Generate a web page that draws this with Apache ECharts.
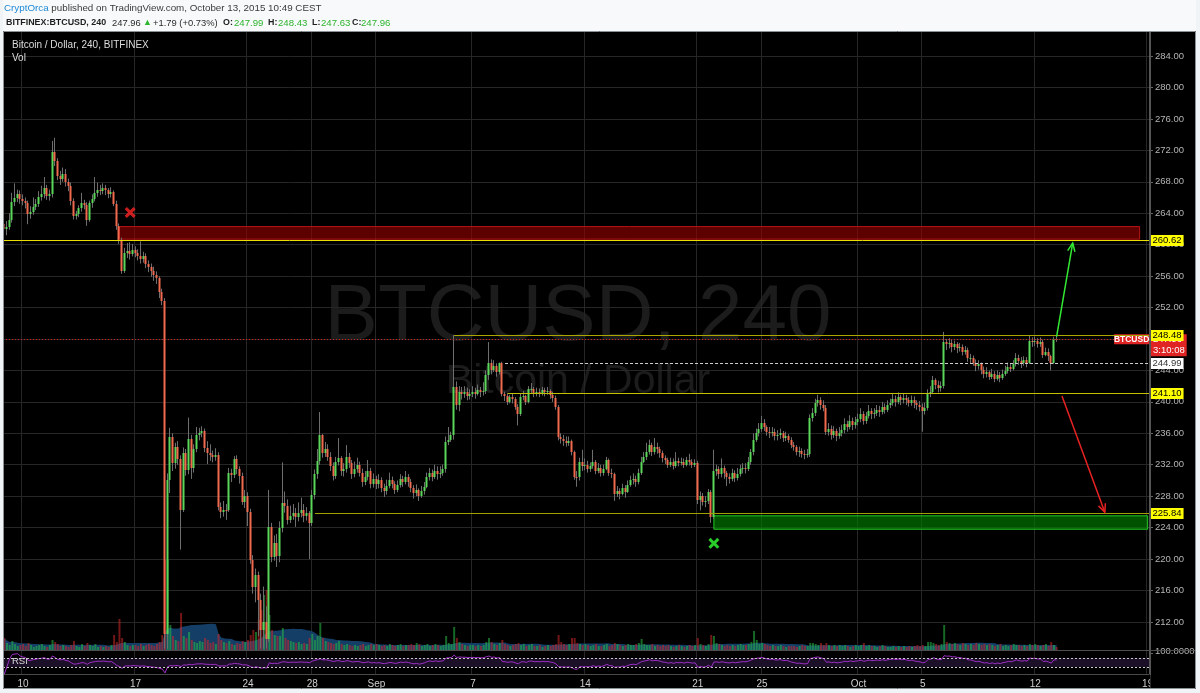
<!DOCTYPE html>
<html><head><meta charset="utf-8">
<script src="https://cdn.jsdelivr.net/npm/echarts/dist/echarts.min.js"></script>
<style>html,body{margin:0;padding:0;background:#f1f4f6;}#c{width:1200px;height:693px;}</style>
</head><body><div id="c"></div>
<script>
// ---------- DATA (4h candles, BITFINEX:BTCUSD) ----------
const startTime = Date.UTC(2015, 7, 8, 20); // first candle: Aug 8 20:00
const totalSlots = 428;                      // axis runs to Oct 19
const firstOpen = 262.6;
const closes = [
262.0,
262.3,263.2,265.4,265.9,266.5,265.8, // Aug 9
265.5,265.3,263.9,264.2,264.8,265.2, // Aug 10
266.0,266.4,267.2,266.2,266.4,271.8, // Aug 11
270.6,268.7,268.4,269.0,268.0,267.5, // Aug 12
265.5,263.6,263.9,264.6,265.3,265.0, // Aug 13
263.2,265.3,265.8,266.6,267.0,266.8, // Aug 14
267.2,266.9,266.5,266.7,265.2,262.4, // Aug 15
260.6,256.6,258.9,259.2,258.8,259.3, // Aug 16
259.0,258.6,258.2,258.5,257.6,257.2, // Aug 17
256.6,256.2,255.8,254.0,252.8,210.5, // Aug 18
230.1,235.5,232.2,234.2,232.7,226.2, // Aug 19
233.5,231.3,235.3,231.6,234.0,235.8, // Aug 20
236.0,236.3,234.1,233.5,233.2,233.0, // Aug 21
233.3,226.6,226.0,226.3,226.2,230.9, // Aug 22
230.7,232.7,231.4,230.6,227.3,228.0, // Aug 23
226.0,219.9,216.4,218.0,214.8,211.0, // Aug 24
212.0,209.8,224.1,220.3,222.0,220.4, // Aug 25
224.0,227.1,226.7,225.0,225.5,225.8, // Aug 26
225.3,225.9,226.3,225.5,225.8,224.6, // Aug 27
228.2,230.8,232.5,235.8,233.5,234.0, // Aug 28
233.0,231.8,230.6,232.3,232.8,231.2, // Aug 29
231.5,233.0,232.2,230.8,231.4,232.0, // Aug 30
231.0,229.8,230.5,231.2,229.6,230.2, // Aug 31
229.5,230.0,229.0,228.6,229.3,230.0, // Sep 1
229.6,228.8,229.4,230.2,229.8,230.4, // Sep 2
229.8,229.0,228.4,228.8,228.0,228.6, // Sep 3
229.2,230.4,231.0,230.5,231.2,230.8, // Sep 4
231.0,231.4,234.9,235.2,235.8,241.9, // Sep 5
239.6,241.3,241.0,241.2,240.8,241.0, // Sep 6
241.3,241.0,241.5,241.2,241.4,243.4, // Sep 7
245.0,244.0,244.6,243.8,245.0,241.0, // Sep 8
240.8,240.0,240.6,240.4,239.3,238.4, // Sep 9
240.6,240.8,240.0,241.6,241.7,241.0, // Sep 10
241.3,241.0,241.5,241.2,241.4,240.9, // Sep 11
240.5,239.4,235.5,235.3,235.0,234.8, // Sep 12
235.0,233.6,230.5,230.4,232.4,231.8, // Sep 13
232.0,231.5,231.8,232.4,231.2,231.6, // Sep 14
231.0,231.5,232.6,231.0,230.8,228.3, // Sep 15
228.6,228.3,229.0,228.5,229.4,230.0, // Sep 16
230.2,229.8,231.0,232.4,233.0,233.6, // Sep 17
234.5,233.6,234.2,234.0,233.5,232.8, // Sep 18
232.6,232.0,232.4,231.8,232.5,232.2, // Sep 19
232.4,232.0,232.6,232.3,232.0,232.2, // Sep 20
227.5,228.0,227.2,227.4,228.5,225.4, // Sep 21
231.2,231.4,230.8,231.6,231.0,230.4, // Sep 22
230.2,231.0,230.3,230.8,231.4,231.6, // Sep 23
231.5,232.3,233.6,235.2,236.0,236.6, // Sep 24
237.3,236.8,236.2,236.0,236.2,235.6, // Sep 25
235.8,236.0,235.4,235.7,235.2,234.5, // Sep 26
234.2,233.6,233.8,233.4,233.2,233.4, // Sep 27
238.0,238.6,239.8,240.2,239.6,239.2, // Sep 28
236.2,236.5,235.8,236.3,235.6,236.0, // Sep 29
236.4,237.2,236.8,237.6,237.0,237.5, // Sep 30
237.8,238.4,237.6,238.2,238.8,238.4, // Oct 1
238.6,239.0,238.7,239.4,239.0,239.6, // Oct 2
239.8,240.4,240.0,240.6,240.2,240.5, // Oct 3
240.2,239.9,240.3,239.8,239.6,239.4, // Oct 4
238.9,239.2,241.1,241.3,242.8,242.2, // Oct 5
241.8,242.0,247.6,247.3,247.5,247.0, // Oct 6
247.3,246.8,247.0,246.4,246.6,245.6, // Oct 7
245.6,245.0,244.5,244.8,244.1,243.6, // Oct 8
243.8,243.2,243.6,242.9,243.4,243.0, // Oct 9
243.6,243.9,244.4,244.2,244.8,245.6, // Oct 10
245.2,244.9,245.3,245.0,247.8,247.6, // Oct 11
247.8,247.4,247.6,246.0,246.4,245.8, // Oct 12
245.0,247.99,247.96                  // Oct 13
];
const highs = [
264.6,
263.0,264.0,266.6,267.8,267.0,266.9,
266.4,266.0,265.6,264.9,266.0,265.8,
266.8,267.5,268.6,267.6,267.0,273.2,
273.6,271.0,269.4,269.8,269.6,268.4,
267.9,265.9,264.3,265.0,266.6,265.7,
265.4,265.6,266.4,268.6,267.9,267.6,
267.8,267.6,267.2,267.3,266.9,265.6,
262.7,260.9,259.6,260.2,260.3,260.1,
259.8,259.4,260.4,259.1,258.9,258.0,
257.6,257.2,256.6,256.0,254.4,253.2,
230.9,236.7,236.0,234.8,235.0,233.2,
234.2,234.0,238.0,235.8,234.6,236.8,
236.7,236.9,236.6,235.0,234.6,233.8,
234.1,233.6,227.2,227.4,227.0,231.6,
231.5,233.1,233.2,231.8,231.0,228.8,
228.5,226.4,220.5,218.8,218.4,215.6,
216.5,214.0,228.8,224.6,223.0,223.2,
224.8,232.3,228.6,227.6,226.8,227.0,
226.5,227.2,227.8,227.0,226.6,226.1,
228.8,231.4,234.0,238.7,235.9,234.9,
234.6,233.6,232.3,233.0,235.4,233.1,
232.2,234.5,233.5,232.6,232.4,232.9,
232.4,231.5,231.2,232.6,231.6,230.9,
230.6,230.8,230.4,229.6,230.1,231.0,
230.5,229.9,230.0,230.8,230.6,231.2,
230.8,230.2,229.4,229.5,229.0,229.3,
229.8,231.0,231.6,231.4,232.0,231.8,
231.8,232.0,235.6,236.8,236.2,248.5,
242.6,242.0,241.9,242.0,241.8,241.6,
242.0,241.8,242.2,241.9,242.5,244.0,
247.6,245.4,245.3,244.9,245.0,245.1,
241.3,241.1,240.9,241.0,240.6,239.7,
241.0,241.4,240.9,242.0,242.4,241.9,
241.8,241.7,241.9,241.8,241.9,241.6,
241.3,240.8,239.6,236.0,235.8,235.6,
235.6,235.2,233.8,231.2,232.9,233.9,
232.8,232.5,232.3,233.9,232.6,232.2,
232.0,232.0,233.0,232.8,231.5,231.0,
229.3,229.0,229.6,229.4,230.0,230.6,
230.9,230.6,231.5,233.0,233.6,234.8,
235.2,234.8,235.4,234.8,234.3,233.8,
233.2,232.9,232.9,232.8,233.6,232.9,
232.9,232.8,233.0,233.4,232.7,232.7,
232.5,228.6,228.4,228.0,228.9,228.8,
233.9,232.0,231.8,232.8,231.9,231.2,
230.9,231.5,231.3,231.6,232.0,232.2,
232.2,233.0,234.0,236.0,236.6,237.3,
238.2,237.8,237.0,236.8,236.8,236.6,
236.4,236.6,236.3,236.2,235.9,235.5,
234.9,234.5,234.3,234.1,233.9,234.0,
238.4,239.2,240.4,240.9,240.6,240.2,
239.6,237.3,237.0,236.9,236.6,236.8,
237.1,237.9,237.6,238.3,238.0,238.1,
238.5,239.2,238.8,238.7,239.6,239.2,
239.2,239.6,239.5,240.0,239.8,240.2,
240.4,241.0,240.8,241.2,240.9,241.1,
240.9,240.6,240.8,240.7,240.2,240.1,
239.8,239.9,241.6,242.0,243.3,243.0,
242.7,242.6,248.9,248.0,248.1,247.9,
247.8,247.6,247.5,247.3,247.1,246.9,
246.1,245.9,245.4,245.3,245.0,244.5,
244.4,244.0,244.2,243.9,244.0,243.8,
244.1,244.6,245.0,244.9,245.3,246.2,
246.0,245.7,245.8,245.7,248.5,248.2,
248.3,248.1,248.2,247.9,246.9,246.8,
246.0,248.3,248.43
];
const lows = [
260.6,
261.2,261.9,262.8,264.9,265.4,265.2,
265.0,264.6,262.6,263.3,263.8,264.4,
264.8,265.6,265.9,265.7,265.6,266.0,
270.0,268.2,267.6,268.0,267.4,266.8,
265.0,263.2,263.2,263.5,264.2,264.5,
262.4,262.9,264.7,265.5,266.1,266.3,
266.4,266.3,265.9,266.0,264.9,261.9,
260.1,256.3,256.4,258.3,258.1,258.5,
258.4,258.0,257.6,257.7,257.0,256.5,
255.9,255.4,255.0,253.2,252.3,208.6,
208.6,228.4,231.2,231.5,232.0,221.2,
226.0,230.6,230.8,230.2,231.0,233.6,
235.1,235.5,233.6,232.1,232.5,232.3,
232.5,226.2,225.2,225.4,225.0,226.0,
229.8,230.3,230.8,229.6,226.9,226.5,
224.2,219.4,215.6,214.5,210.2,208.6,
208.6,208.6,209.5,219.6,219.8,219.0,
219.6,223.4,225.9,224.4,224.6,225.0,
224.1,224.8,225.3,224.7,224.9,220.0,
224.2,227.6,230.2,232.0,232.9,233.0,
232.5,231.2,230.0,230.2,231.9,230.6,
230.5,231.0,231.6,230.2,230.4,231.0,
230.5,229.2,229.4,230.0,229.0,229.1,
228.9,229.0,228.5,227.9,228.2,229.0,
229.0,228.3,228.5,229.1,229.2,229.5,
229.2,228.5,227.7,228.0,227.4,227.8,
228.2,229.0,230.0,229.9,230.2,230.1,
230.3,230.6,231.0,234.5,234.9,235.2,
239.0,238.8,240.3,240.5,240.2,240.3,
240.6,240.4,240.8,240.6,240.8,241.0,
242.8,243.5,243.8,243.2,243.5,240.7,
240.1,239.6,239.8,239.8,239.0,237.0,
238.2,240.2,239.6,239.8,241.1,240.6,
240.7,240.6,240.8,240.7,240.9,240.4,
240.0,239.0,235.1,234.7,234.4,234.3,
234.4,233.2,230.1,229.2,230.0,231.2,
231.3,231.0,231.1,231.5,230.8,230.9,
230.5,230.6,231.3,230.6,230.3,227.4,
227.9,227.6,228.1,227.8,228.4,229.2,
229.5,229.2,229.5,230.7,232.2,232.6,
233.3,233.1,233.3,233.4,232.9,232.3,
232.1,231.6,231.7,231.4,231.6,231.8,
231.9,231.6,231.8,231.9,231.6,231.7,
227.0,226.2,226.8,226.6,227.0,224.6,
225.1,230.6,230.2,230.4,230.2,229.3,
229.6,229.9,229.8,230.0,230.5,230.9,
230.9,231.2,232.0,233.2,234.9,235.6,
236.2,236.3,235.7,235.4,235.6,235.1,
235.1,235.3,234.9,235.0,234.8,234.1,
233.8,233.2,233.0,232.9,232.7,232.9,
233.0,237.5,238.2,239.4,239.0,238.8,
235.8,235.7,235.2,235.4,235.0,235.3,
235.6,236.0,236.2,236.5,236.4,236.6,
237.0,237.4,237.1,237.2,237.9,237.8,
237.9,238.2,238.1,238.4,238.5,238.7,
239.2,239.5,239.4,239.7,239.6,239.8,
239.6,239.4,239.5,239.2,239.0,238.8,
236.2,238.4,238.9,240.6,241.0,241.6,
241.2,241.3,241.7,246.6,246.8,246.3,
246.6,246.2,246.4,245.9,246.0,245.1,
244.9,244.6,243.9,244.1,243.5,243.0,
243.1,242.8,242.9,242.5,242.7,242.5,
242.8,243.3,243.6,243.8,244.0,244.5,
244.7,244.3,244.6,244.4,244.8,247.0,
247.1,246.9,247.0,245.6,245.8,245.2,
244.0,244.8,247.63
];
const volumes = [
12,
7,5,9,6,4,5,
6,4,7,5,3,4,
5,6,4,3,5,10,
8,6,4,5,4,3,
5,9,4,3,6,4,
7,5,4,6,3,4,
3,4,3,5,15,8,
31,12,8,5,4,5,
5,4,6,4,5,6,
5,4,6,8,15,200,
90,25,14,10,9,37,
14,12,18,10,8,7,
9,8,12,10,7,8,
6,16,10,8,7,9,
6,5,7,6,9,8,
10,15,20,18,30,40,
55,60,35,20,15,14,
14,22,12,10,9,8,
7,8,6,7,6,12,
16,10,14,27,12,9,
8,7,6,7,9,6,
5,6,5,4,5,4,
5,6,4,5,6,5,
6,5,4,5,4,6,
5,4,5,6,4,5,
5,6,5,7,6,4,
5,6,4,5,6,5,
4,5,14,7,6,23,
12,8,6,5,4,5,
5,4,5,4,5,8,
12,8,6,5,7,10,
6,5,4,5,6,7,
5,6,4,5,6,4,
4,5,3,4,5,4,
5,6,15,8,6,5,
6,12,12,7,6,5,
6,5,4,5,6,4,
4,5,6,4,5,7,
6,5,4,5,6,5,
5,6,7,11,6,5,
5,6,4,5,4,5,
4,5,4,3,4,5,
4,3,4,5,4,5,
12,6,5,4,6,15,
14,7,6,5,4,5,
4,5,4,5,6,5,
5,6,8,19,10,6,
7,6,5,4,5,4,
4,5,4,3,4,4,
4,3,4,5,4,4,
7,7,6,5,7,5,
7,5,4,5,4,5,
4,5,4,3,4,5,
4,5,7,4,5,4,
4,3,4,5,4,3,
3,4,3,4,3,4,
3,4,3,4,5,4,
5,4,8,8,7,6,
5,6,25,8,7,6,
7,6,5,7,6,5,
6,5,7,6,5,6,
5,6,5,4,5,6,
4,5,4,5,6,5,
5,4,5,4,6,5,
6,5,4,5,6,4,
8,5,3
];
// date tick labels
const tickDates  = ['2015-08-10','2015-08-17','2015-08-24','2015-08-28','2015-09-01','2015-09-07','2015-09-14','2015-09-21','2015-09-25','2015-10-01','2015-10-05','2015-10-12','2015-10-19'];
const tickLabels = ['10','17','24','28','Sep','7','14','21','25','Oct','5','12','19'];
// drawn horizontal levels: value and first bar (0 = whole width)
const levelValues = [260.62, 248.48, 244.99, 241.10, 225.84];
const levelStartBar = [0, 168, 187, 188, 116];
const lastPrice = 247.96;
const resistanceZone = [43, 424, 260.7, 262.3];   // [fromBar, toBar, low, high]
const supportZone = [265, 427, 223.8, 225.5];
const crossMarks = [[47, 264.1], [265, 222.0]];
const arrows = [[393, 248.3, 399, 260.2], [395, 240.75, 411, 225.95]];

// ---------- BUILD ----------
const pad = n => String(n).padStart(2, '0');
const cats = [];
for (let k = 0; k < totalSlots; k++) {
  const d = new Date(startTime + k * 4 * 3600e3);
  cats.push(d.getUTCFullYear() + '-' + pad(d.getUTCMonth() + 1) + '-' + pad(d.getUTCDate()) + ' ' + pad(d.getUTCHours()) + ':00');
}
const tickMap = {};
tickDates.forEach((d, i) => tickMap[d + ' 00:00'] = tickLabels[i]);
const isTick = (idx, val) => tickMap[val] !== undefined;

const opens = closes.map((c, i) => i === 0 ? firstOpen : closes[i - 1]);
const candleData = closes.map((c, i) => [i, opens[i], c, lows[i], highs[i]]);
const UP = '#5ad65a', DOWN = '#f06a4e';

const volData = volumes.map((v, i) => ({
  value: v,
  itemStyle: { color: closes[i] >= opens[i] ? 'rgba(40,190,70,0.55)' : 'rgba(210,40,40,0.55)' }
}));
const volMA = volumes.map((v, i) => {
  const s = Math.max(0, i - 19); let sum = 0;
  for (let j = s; j <= i; j++) sum += volumes[j];
  return +(sum / (i - s + 1)).toFixed(2);
});
// RSI 14 (Wilder)
const rsi = [];
(function () {
  const n = 14; let ag = 0, al = 0;
  for (let i = 0; i < closes.length; i++) {
    const ch = closes[i] - opens[i];
    const g = Math.max(ch, 0), l = Math.max(-ch, 0);
    if (i < n) { ag = (ag * i + g) / (i + 1); al = (al * i + l) / (i + 1); }
    else { ag = (ag * (n - 1) + g) / n; al = (al * (n - 1) + l) / n; }
    rsi.push(al === 0 ? 100 : +(100 - 100 / (1 + ag / al)).toFixed(2));
  }
})();

const FONT = '"Liberation Sans", Arial, sans-serif';
const mkX = (gi) => ({
  type: 'category', gridIndex: gi, data: cats, boundaryGap: true,
  axisLine: { show: gi === 2, lineStyle: { color: '#4a4a4a' } },
  axisTick: { show: false },
  axisLabel: { show: gi === 2, interval: isTick, formatter: v => tickMap[v] || '', color: '#cfcfcf', fontSize: 10, fontFamily: FONT, margin: 5 },
  splitLine: { show: gi !== 1, interval: isTick, lineStyle: { color: '#262626', width: 1 } }
});
const splitColors = [];
for (let v = 208; v <= 288; v += 4) splitColors.push(v === 208 || v === 288 ? 'rgba(0,0,0,0)' : '#262626');

const levelColors = ['#e8e000', '#a8a800', '#cfcfcf', '#c2c200', '#a0a000'];
const levelBg = ['#ffff00', '#ffff00', '#ffffff', '#ffff00', '#ffff00'];
const levelData = levelValues.map((v, k) => [levelStartBar[k], totalSlots - 1, v, k]);

function renderLevel(params, api) {
  const s = api.value(0), v = api.value(2), k = api.value(3);
  const cs = params.coordSys;
  const p = api.coord([s, v]);
  const y = Math.round(p[1]) + 0.5;
  const x1 = s === 0 ? cs.x : p[0];
  const x2 = cs.x + cs.width;
  return { type: 'group', children: [
    { type: 'line', shape: { x1: x1, y1: y, x2: x2, y2: y },
      style: { stroke: levelColors[k], lineWidth: 1, lineDash: k === 2 ? [3, 2] : null } },
    { type: 'text', style: { x: x2 + 1.5, y: y, text: v.toFixed(2), fill: k === 2 ? '#333' : '#000',
      backgroundColor: levelBg[k], padding: [1, 2, 0, 2], font: '9.5px ' + FONT, verticalAlign: 'middle', align: 'left' } }
  ] };
}
function renderCandle(params, api) {
  const i = api.value(0), o = api.value(1), c = api.value(2), l = api.value(3), h = api.value(4);
  const pT = api.coord([i, Math.max(o, c)]), pB = api.coord([i, Math.min(o, c)]);
  const pH = api.coord([i, h]), pL = api.coord([i, l]);
  const x = Math.round(pT[0]) - 1;
  const yT = Math.round(pT[1]), yB = Math.max(Math.round(pB[1]), yT + 1);
  return { type: 'group', children: [
    { type: 'line', shape: { x1: x + 0.5, y1: pH[1], x2: x + 0.5, y2: pL[1] }, style: { stroke: '#6e6e6e', lineWidth: 1 } },
    { type: 'rect', shape: { x: x - 0.5, y: yT, width: 2, height: yB - yT }, style: { fill: c >= o ? UP : DOWN } }
  ] };
}
const arrowColors = ['#33e833', '#e82222'];
function renderArrow(params, api) {
  const a = api.coord([api.value(0), api.value(1)]), b = api.coord([api.value(2), api.value(3)]);
  const col = arrowColors[params.dataIndex];
  const ang = Math.atan2(b[1] - a[1], b[0] - a[0]), L = 9, w = 0.42;
  const h1 = [b[0] - L * Math.cos(ang - w), b[1] - L * Math.sin(ang - w)];
  const h2 = [b[0] - L * Math.cos(ang + w), b[1] - L * Math.sin(ang + w)];
  return { type: 'group', children: [
    { type: 'line', shape: { x1: a[0], y1: a[1], x2: b[0], y2: b[1] }, style: { stroke: col, lineWidth: 1.5 } },
    { type: 'polyline', shape: { points: [h1, b, h2] }, style: { stroke: col, lineWidth: 1.5, fill: null } }
  ] };
}
const X_PATH = 'path://M0,2 L2,0 L5,3 L8,0 L10,2 L7,5 L10,8 L8,10 L5,7 L2,10 L0,8 L3,5 Z';

// header pieces: [x, text, style]
const headerLine2 = [
  [6, 'BITFINEX:BTCUSD, 240', 'k'], [112, '247.96', 'n'], [143, '▲', 'up'], [153, '+1.79 (+0.73%)', 'n'],
  [223, 'O:', 'k'], [234, '247.99', 'v'], [268, 'H:', 'k'], [278, '248.43', 'v'],
  [312, 'L:', 'k'], [321, '247.63', 'v'], [352, 'C:', 'k'], [361, '247.96', 'v']
];
const hdrStyles = {
  k: { fill: '#1e1e1e', font: 'bold 8.9px ' + FONT }, n: { fill: '#2a2a2a', font: '9.4px ' + FONT },
  up: { fill: '#2fb52f', font: '9px ' + FONT }, v: { fill: '#2eb42e', font: '9.6px ' + FONT }
};
const headerGraphics = headerLine2.map(([x, t, s]) => ({ type: 'text', z: 102, silent: true,
  style: Object.assign({ x: x, y: 23, text: t, textVerticalAlign: 'middle' }, hdrStyles[s]) }));

const option = {
  backgroundColor: '#000',
  animation: false,
  textStyle: { fontFamily: FONT },
  grid: [
    { left: 3, right: 51, top: 24.56, bottom: 39.6, outerBoundsMode: 'none' },
    { left: 3, right: 51, top: 560, bottom: 43, outerBoundsMode: 'none' },
    { left: 3, right: 51, top: 651, bottom: 19, outerBoundsMode: 'none' }
  ],
  xAxis: [mkX(0), mkX(1), mkX(2)],
  yAxis: [
    { type: 'value', gridIndex: 0, position: 'right', min: 208, max: 288, interval: 4, scale: true,
      axisLine: { show: true, lineStyle: { color: '#555' } },
      axisTick: { show: true, length: 4, lineStyle: { color: '#666' } },
      axisLabel: { color: '#b4b4b4', fontSize: 9.5, fontFamily: FONT, margin: 6, formatter: v => (v === 208 || v === 288) ? '' : v.toFixed(2) },
      splitLine: { show: true, lineStyle: { color: splitColors, width: 1 } } },
    { type: 'value', gridIndex: 1, min: 0, max: 90, show: false, splitLine: { show: false } },
    { type: 'value', gridIndex: 2, position: 'right', min: 0, max: 100, interval: 100,
      axisLine: { show: true, lineStyle: { color: '#555' } }, axisTick: { show: false },
      axisLabel: { color: '#b4b4b4', fontSize: 9.5, fontFamily: FONT, margin: 6, formatter: v => v === 100 ? '100.0000' : '' },
      splitLine: { show: false } }
  ],
  series: [
    { type: 'line', name: 'volMA', xAxisIndex: 1, yAxisIndex: 1, data: volMA, symbol: 'none', silent: true, z: 1,
      lineStyle: { width: 0 }, areaStyle: { color: '#143e66', opacity: 1 } },
    { type: 'bar', name: 'vol', xAxisIndex: 1, yAxisIndex: 1, data: volData, barWidth: 2, clip: true, silent: true, z: 2 },
    { type: 'custom', name: 'BTCUSD', xAxisIndex: 0, yAxisIndex: 0, data: candleData, renderItem: renderCandle, z: 3, silent: true,
      encode: { x: 0, y: [1, 2, 3, 4] } },
    { type: 'scatter', name: 'drawings', xAxisIndex: 0, yAxisIndex: 0, z: 4, silent: true,
      symbol: X_PATH, symbolSize: 11,
      data: [
        { value: crossMarks[0], itemStyle: { color: '#ff2424' } },
        { value: crossMarks[1], itemStyle: { color: '#33ff33' } }
      ],
      markArea: { silent: true, data: [
        [{ coord: [resistanceZone[0], resistanceZone[3]], itemStyle: { color: 'rgba(150,0,0,0.62)', borderColor: '#b81414', borderWidth: 1 } },
         { coord: [resistanceZone[1], resistanceZone[2]] }],
        [{ coord: [supportZone[0], supportZone[3]], itemStyle: { color: 'rgba(0,130,0,0.62)', borderColor: '#22cc22', borderWidth: 1 } },
         { coord: [supportZone[1], supportZone[2]] }]
      ] },
      markLine: { silent: true, symbol: ['none', 'none'], data: [
        { yAxis: lastPrice, lineStyle: { color: '#d42020', width: 1, type: [1, 2] },
          label: { show: true, position: 'end', distance: 2, offset: [0, 6], backgroundColor: '#e02424', padding: [0, 2], lineHeight: 11,
            formatter: '{a|247.96}\n{a|3:10:08}', rich: { a: { color: '#fff', fontSize: 9.5, fontFamily: FONT, lineHeight: 11 } } } }
      ] },
      markPoint: { silent: true, data: [
        { coord: [421, lastPrice], symbol: 'rect', symbolSize: [35, 10], itemStyle: { color: '#e02424' },
          label: { show: true, position: 'inside', formatter: 'BTCUSD', color: '#fff', fontSize: 8.5, fontWeight: 'bold', fontFamily: FONT } }
      ] }
    },
    { type: 'custom', name: 'levels', xAxisIndex: 0, yAxisIndex: 0, data: levelData, renderItem: renderLevel, z: 6, silent: true,
      encode: { x: [0, 1], y: 2 } },
    { type: 'custom', name: 'arrows', xAxisIndex: 0, yAxisIndex: 0, data: arrows, renderItem: renderArrow, z: 7, silent: true,
      encode: { x: [0, 2], y: [1, 3] } },
    { type: 'line', name: 'RSI', xAxisIndex: 2, yAxisIndex: 2, data: rsi, symbol: 'none', silent: true, z: 4,
      lineStyle: { color: '#a030c8', width: 1 },
      markArea: { silent: true, itemStyle: { color: '#1c0f28' }, data: [[{ yAxis: 30 }, { yAxis: 70 }]] },
      markLine: { silent: true, symbol: ['none', 'none'], label: { show: false },
        lineStyle: { color: '#c8c8c8', type: [2, 2], width: 1 }, data: [{ yAxis: 70 }, { yAxis: 30 }] } }
  ],
  graphic: [
    { type: 'text', z: 0, silent: true, style: { x: 578, y: 318, text: 'BTCUSD, 240', fill: '#1c1c1c', font: '80px ' + FONT, textAlign: 'center', textVerticalAlign: 'middle' } },
    { type: 'text', z: 0, silent: true, style: { x: 578, y: 382, text: 'Bitcoin / Dollar', fill: '#1c1c1c', font: '41px ' + FONT, textAlign: 'center', textVerticalAlign: 'middle' } },
    { type: 'rect', z: 100, silent: true, shape: { x: 0, y: 0, width: 1200, height: 31 }, style: { fill: '#f7f9fa' } },
    { type: 'rect', z: 100, silent: true, shape: { x: 0, y: 0, width: 3, height: 693 }, style: { fill: '#f1f4f6' } },
    { type: 'rect', z: 100, silent: true, shape: { x: 1196, y: 0, width: 4, height: 693 }, style: { fill: '#f1f4f6' } },
    { type: 'rect', z: 100, silent: true, shape: { x: 0, y: 689, width: 1200, height: 4 }, style: { fill: '#f1f4f6' } },
    { type: 'rect', z: 100, silent: true, shape: { x: 1150.5, y: 675, width: 45.5, height: 14 }, style: { fill: '#000' } },
    { type: 'rect', z: 101, silent: true, shape: { x: 3.5, y: 31.5, width: 1192, height: 657 }, style: { fill: null, stroke: '#8c9196', lineWidth: 1 } },
    { type: 'line', z: 50, silent: true, shape: { x1: 1150.5, y1: 31, x2: 1150.5, y2: 689 }, style: { stroke: '#555', lineWidth: 1 } },
    { type: 'line', z: 50, silent: true, shape: { x1: 3, y1: 650.5, x2: 1196, y2: 650.5 }, style: { stroke: '#4e4e4e', lineWidth: 1 } },
    { type: 'text', z: 102, silent: true, style: { x: 4, y: 8, textVerticalAlign: 'middle',
      text: '{b|CryptOrca}{g| published on TradingView.com, October 13, 2015 10:49 CEST}',
      rich: { b: { fill: '#1f8ad6', font: '9.8px ' + FONT }, g: { fill: '#3a3a3a', font: '9.8px ' + FONT } } } }
  ].concat(headerGraphics, [
    { type: 'text', z: 102, silent: true, style: { x: 12, y: 45, text: 'Bitcoin / Dollar, 240, BITFINEX', fill: '#dcdcdc', font: '10px ' + FONT, textVerticalAlign: 'middle' } },
    { type: 'text', z: 102, silent: true, style: { x: 12, y: 58, text: 'Vol', fill: '#dcdcdc', font: '10px ' + FONT, textVerticalAlign: 'middle' } },
    { type: 'text', z: 102, silent: true, style: { x: 12, y: 661, text: 'RSI', fill: '#dcdcdc', font: '9.5px ' + FONT, textVerticalAlign: 'middle' } }
  ])
};
const chart = echarts.init(document.getElementById('c'), null, { renderer: 'canvas' });
chart.setOption(option);
</script>
</body></html>
